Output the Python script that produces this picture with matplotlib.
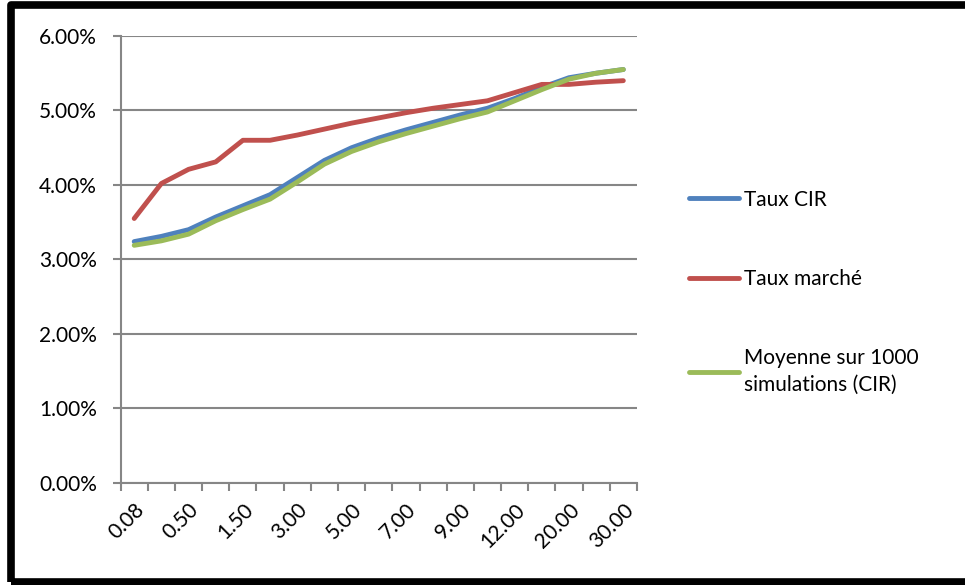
import matplotlib
matplotlib.use("Agg")
import matplotlib.pyplot as plt
from matplotlib.patches import Rectangle
from matplotlib.ticker import FuncFormatter

# maturities (years) and the three rate curves, in %
maturites = ["0.08", "0.25", "0.50", "1.00", "1.50", "2.00", "3.00", "4.00", "5.00", "6.00",
             "7.00", "8.00", "9.00", "10.00", "12.00", "15.00", "20.00", "25.00", "30.00"]
taux_cir = [3.24, 3.31, 3.40, 3.57, 3.72, 3.87, 4.10, 4.33, 4.50, 4.63,
            4.74, 4.84, 4.94, 5.03, 5.16, 5.31, 5.44, 5.50, 5.55]
taux_marche = [3.55, 4.02, 4.21, 4.31, 4.60, 4.60, 4.67, 4.75, 4.83, 4.90,
               4.97, 5.03, 5.08, 5.13, 5.24, 5.35, 5.35, 5.38, 5.40]
moyenne_sim = [3.19, 3.25, 3.34, 3.52, 3.67, 3.81, 4.04, 4.28, 4.45, 4.58,
               4.69, 4.79, 4.89, 4.98, 5.13, 5.28, 5.42, 5.50, 5.55]

plt.rcParams["font.family"] = ["Lato", "DejaVu Sans"]
grey = "#868686"
fs = 15

fig = plt.figure(figsize=(9.65, 5.85), dpi=100)
ax = fig.add_axes([0.125, 0.1744, 0.535, 0.7641])

x = range(len(maturites))
ax.plot(x, taux_cir, color="#4F81BD", lw=3.5, solid_capstyle="round", label="Taux CIR")
ax.plot(x, taux_marche, color="#C0504D", lw=3.5, solid_capstyle="round", label="Taux marché")
ax.plot(x, moyenne_sim, color="#9BBB59", lw=3.5, solid_capstyle="round",
        label="Moyenne sur 1000\nsimulations (CIR)")

ax.set_xlim(-0.5, len(maturites) - 0.5)
ax.set_ylim(0, 6)
ax.set_yticks(range(7))
ax.yaxis.set_major_formatter(FuncFormatter(lambda v, p: f"{v:.2f}%"))
ax.grid(axis="y", color=grey, lw=1.5)
ax.set_axisbelow(True)

# category ticks sit between categories, labels on every other one
ax.set_xticks([i - 0.5 for i in range(len(maturites) + 1)], minor=True)
ax.set_xticks(list(x)[::2])
ax.set_xticklabels(maturites[::2], rotation=45, ha="right", rotation_mode="anchor")
ax.tick_params(axis="x", which="major", length=0, labelsize=fs, pad=12)
ax.tick_params(axis="x", which="minor", length=6, width=1.5, color=grey)
ax.tick_params(axis="y", length=6, width=1.5, color=grey, labelsize=fs, pad=11)

for side in ["top", "right"]:
    ax.spines[side].set_visible(False)
for side in ["left", "bottom"]:
    ax.spines[side].set_color(grey)
    ax.spines[side].set_linewidth(1.5)

leg = fig.legend(loc="upper left", bbox_to_anchor=(0.695, 0.708), frameon=False,
                 fontsize=fs, handlelength=2.4, handletextpad=0.2, labelspacing=2.85)
for t in leg.get_texts():
    t.set_linespacing(1.4)

# chart frame, its right side runs past the image edge
border = Rectangle((0.0114, 0.005), 1.05, 0.9865, transform=fig.transFigure,
                   fill=False, edgecolor="black", lw=5.5, joinstyle="round")
fig.patches.append(border)

fig.savefig("out.png", dpi=100)
